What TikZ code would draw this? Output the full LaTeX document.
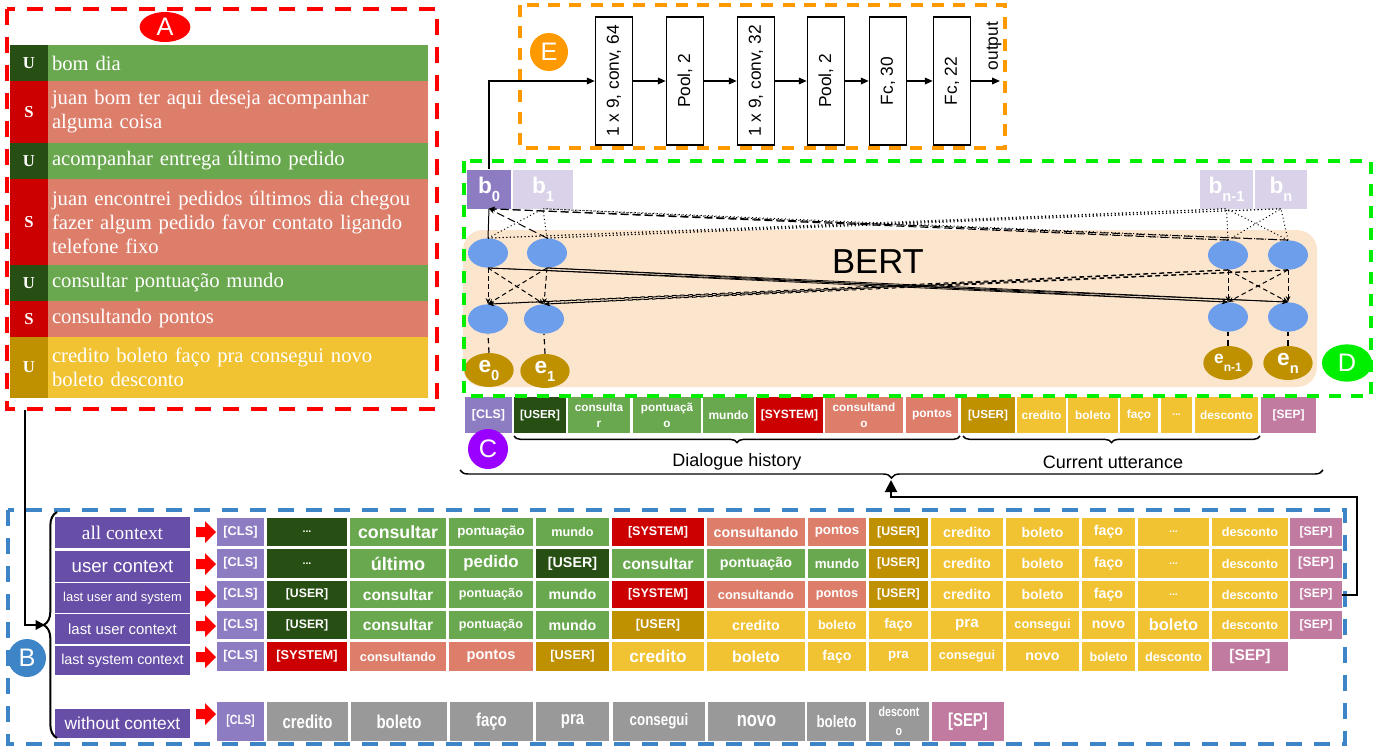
\documentclass[tikz,border=0pt]{standalone}
\usepackage{fontspec}
\setmainfont{Liberation Sans}
\newfontfamily\tnr{Liberation Serif}
\newfontfamily\narrow[FakeStretch=0.8]{Liberation Sans}
\usetikzlibrary{shapes.geometric,arrows.meta,decorations.pathreplacing}
\definecolor{dgreen}{HTML}{274E13}
\definecolor{mgreen}{HTML}{6AA84F}
\definecolor{sred}{HTML}{CC0000}
\definecolor{salmon}{HTML}{DD7E6B}
\definecolor{gold}{HTML}{BF9000}
\definecolor{yel}{HTML}{F1C232}
\definecolor{cls}{HTML}{8E7CC3}
\definecolor{sepc}{HTML}{C27BA0}
\definecolor{labc}{HTML}{674EA7}
\definecolor{gry}{HTML}{999999}
\definecolor{lpur}{HTML}{D9D2E9}
\definecolor{bblue}{HTML}{6D9EEB}
\definecolor{peach}{HTML}{FCE5CD}
\definecolor{org}{HTML}{FF9900}
\definecolor{brg}{HTML}{00EE00}
\definecolor{rdash}{HTML}{FF0000}
\definecolor{bdash}{HTML}{3D85C6}
\definecolor{cpur}{HTML}{9900FF}
\newcommand\fsz[1]{\fontsize{#1}{#1}\selectfont}
\newcommand\sbs[2]{\raisebox{-6pt}{\fsz{#1}#2}}
\newcommand\tokrow[5]{%
  \foreach \xa/\xb/\col/\fs/\txt [count=\i] in {#5}{
    \node[tok, fill=\col, minimum width={(\xb-\xa)*0.75pt}, minimum height={(#3-#2)*0.75pt}, font=#4\bfseries\fsz{\fs}] (#1-\i) at ({(\xa+\xb)/2},{(#2+#3)/2}) {\txt};
  }}
\newcommand\arow[7]{%
  \node[acell, fill=#4, minimum width=28.5pt, minimum height={#3*0.75pt}, font=\tnr\bfseries\fsz{12.5}] (#1l) at (10,#2) {#6};
  \node[acell, fill=#5, minimum width=285pt, minimum height={#3*0.75pt}, text width=279pt, align=left, inner xsep=3pt, font=\tnr\fontsize{15.5}{18}\selectfont] (#1t) at (48,#2) {#7};}
\newcommand\redarrow[1]{\fill[red] (196,#1-5) -- (205,#1-5) -- (205,#1-11) -- (216,#1) -- (205,#1+11) -- (205,#1+5) -- (196,#1+5) -- cycle;}
\begin{document}
\begin{tikzpicture}[x=0.75pt, y=-0.75pt,
  tok/.style={rectangle, inner sep=0pt, outer sep=0pt, text=white, align=center},
  acell/.style={rectangle, inner sep=0pt, outer sep=0pt, anchor=north west, text=white},
  ctxlab/.style={rectangle, fill=labc, text=white, inner sep=0pt, minimum width=101.25pt},
  ebox/.style={rectangle, draw=black, line width=1.1pt, fill=white, minimum width=27.75pt, minimum height=96pt, inner sep=0pt, font=\fsz{13}},
  earr/.style={line width=1.1pt, -{Triangle[length=6pt,width=5pt]}},
  badge/.style={ellipse, text=white, inner sep=0pt, font=\fsz{19}},
  bbox/.style={rectangle, inner sep=0pt, text=white, font=\bfseries\fsz{17}, minimum height=29.25pt},
  blu/.style={ellipse, fill=bblue, inner sep=0pt, minimum width=30pt, minimum height=22pt},
  eel/.style={ellipse, fill=gold, inner sep=0pt, minimum width=37pt, minimum height=25.5pt, text=white, font=\bfseries\fsz{17}},
  cdash/.style={line width=0.75pt, dash pattern=on 3.5pt off 2.5pt, -{Stealth[length=4.5pt,width=3.5pt]}},
  csol/.style={line width=0.6pt, -{Stealth[length=4.5pt,width=3.5pt]}},
  cdot/.style={line width=0.75pt, dotted},
  rdashs/.style={draw=rdash, line width=2.6pt, dash pattern=on 12pt off 9pt},
  odashs/.style={draw=org, line width=2.6pt, dash pattern=on 9pt off 7pt},
  gdashs/.style={draw=brg, line width=2.4pt, dash pattern=on 9pt off 7.5pt},
  bdashs/.style={draw=bdash, line width=2.3pt, dash pattern=on 12pt off 9pt},
  brc/.style={line width=1.1pt, decorate}
]
\useasboundingbox (0,0) rectangle (1390,747);
\fill[white] (0,0) rectangle (1390,747);

% ---------------- Panel A ----------------
\arow{a1}{45}{36}{dgreen}{mgreen}{U}{bom dia}
\arow{a2}{81}{62}{sred}{salmon}{S}{juan bom ter aqui deseja acompanhar\\alguma coisa}
\arow{a3}{143}{36}{dgreen}{mgreen}{U}{acompanhar entrega último pedido}
\arow{a4}{179}{86}{sred}{salmon}{S}{juan encontrei pedidos últimos dia chegou\\fazer algum pedido favor contato ligando\\telefone fixo}
\arow{a5}{265}{36}{dgreen}{mgreen}{U}{consultar pontuação mundo}
\arow{a6}{301}{36}{sred}{salmon}{S}{consultando pontos}
\arow{a7}{337}{61}{gold}{yel}{U}{credito boleto faço pra consegui novo\\boleto desconto}
\draw[rdashs] (7,9) rectangle (437,409);
\node[badge, fill=rdash, minimum width=38pt, minimum height=22.5pt] (bA) at (165,27) {A};

% ---------------- Panel E ----------------
\draw[odashs] (520,5) rectangle (1005,148);
\node[badge, fill=org, minimum width=28.5pt, minimum height=28.5pt] (bE) at (549,52) {E};
\node[ebox] (cv1) at (614,81) {\rotatebox{90}{1 x 9, conv, 64}};
\node[ebox] (pl1) at (685,81) {\rotatebox{90}{Pool, 2}};
\node[ebox] (cv2) at (756,81) {\rotatebox{90}{1 x 9, conv, 32}};
\node[ebox] (pl2) at (826,81) {\rotatebox{90}{Pool, 2}};
\node[ebox] (fc1) at (888,81) {\rotatebox{90}{Fc, 30}};
\node[ebox] (fc2) at (952,81) {\rotatebox{90}{Fc, 22}};
\draw[earr] (cv1) -- (pl1);
\draw[earr] (pl1) -- (cv2);
\draw[earr] (cv2) -- (pl2);
\draw[earr] (pl2) -- (fc1);
\draw[earr] (fc1) -- (fc2);
\node[inner sep=0pt, font=\fsz{13}] (outl) at (994,46) {\rotatebox{90}{output}};
\coordinate (oute) at (1000,81);
\draw[earr] (fc2) -- (oute);

% ---------------- Panel D (BERT) ----------------
\fill[peach, rounded corners=15pt] (463,230) rectangle (1317,387);
\node[font=\fsz{26}, inner sep=0pt] (bert) at (878,262) {BERT};
\node[bbox, fill=cls, minimum width=33pt] (bb1) at (489,189) {b\sbs{11}{0}};
\node[bbox, fill=lpur, minimum width=45pt] (bb2) at (543,189) {b\sbs{11}{1}};
\node[bbox, fill=lpur, minimum width=39.75pt] (bb3) at (1226.5,189) {b\sbs{11}{n-1}};
\node[bbox, fill=lpur, minimum width=39pt] (bb4) at (1281,189) {b\sbs{11}{n}};
\node[blu] (u1) at (488,253) {};
\node[blu] (u2) at (547,253) {};
\node[blu] (u3) at (1228,255) {};
\node[blu] (u4) at (1288,255) {};
\node[blu] (l1) at (488,319) {};
\node[blu] (l2) at (544,319) {};
\node[blu] (l3) at (1228,317) {};
\node[blu] (l4) at (1288,317) {};
\node[eel] (e1) at (489,370) {e\sbs{11}{0}};
\node[eel] (e2) at (545,371) {e\sbs{11}{1}};
\node[eel, font=\bfseries\fsz{13}] (e3) at (1228,363) {e\sbs{9}{n-1}};
\node[eel] (e4) at (1288,363) {e\sbs{11}{n}};
\foreach \a in {1,2,3,4}{\draw[line width=0.9pt, dash pattern=on 4pt off 3pt] (e\a.north) -- (l\a.south);}
\foreach \a/\b/\s in {1/1/cdash,1/2/cdash,1/3/csol,1/4/csol,2/1/cdash,2/2/cdash,2/3/csol,2/4/csol,3/1/cdash,3/2/cdash,3/3/cdash,3/4/cdash,4/1/cdash,4/2/cdash,4/3/cdash,4/4/cdash}
  {\draw[\s] (u\a.south) -- (l\b.north);}
\draw[line width=0.75pt] (u1.north) -- (bb1.south);
\foreach \a in {2,3,4}{\draw[cdash, dash pattern=on 6pt off 3pt] (u\a.north) -- (bb1.south);}
\foreach \a in {1,2,3,4}{\foreach \b in {2,3,4}{\draw[cdot] (u\a.north) -- (bb\b.south);}}
\draw[earr] (bb1.north) |- (cv1.west);

% ---------------- Token row C ----------------
\tokrow{c}{397}{433}{}{465/512/cls/9.3/{[CLS]}, 514/566/dgreen/8.7/{[USER]}, 568/630/mgreen/8.8/{consulta\\[3pt]r}, 633/701/mgreen/8.8/{pontuaçã\\[3pt]o}, 703/754/mgreen/9/{mundo}, 756/823/sred/9/{[SYSTEM]}, 825/903/salmon/8.8/{consultand\\[3pt]o}, 906/958/salmon/9/{pontos}, 961/1015/gold/8.7/{[USER]}, 1017/1066/yel/8.9/{credito}, 1068/1118/yel/8.9/{boleto}, 1120/1158/yel/8.9/{faço}, 1161/1192/yel/8/{...}, 1195/1258/yel/8.9/{desconto}, 1261/1316/sepc/9/{[SEP]}}
\draw[gdashs] (464,161) rectangle (1371,396);
\node[badge, fill=brg, minimum width=37.5pt, minimum height=28pt] (bD) at (1347,363) {D};
\node[badge, fill=cpur, minimum width=30pt, minimum height=30pt] (bC) at (488,449) {C};
\draw[brc, decoration={brace, mirror, amplitude=5pt}] (514,436) -- (960,436);
\draw[brc, decoration={brace, mirror, amplitude=5pt}] (963,436) -- (1260,436);
\node[font=\fsz{13.5}] (dh) at (737,462) {Dialogue history};
\node[font=\fsz{13.5}] (cu) at (1113,462) {Current utterance};
\draw[brc, decoration={brace, mirror, amplitude=6pt}] (460,470) -- (1323,470);

% ---------------- Panel B ----------------
\draw[bdashs] (8,510) rectangle (1345,744);
\node[ctxlab, minimum height=23.25pt, font=\tnr\fsz{14.5}] (ctx1) at (122.5,532.5) {all context};
\node[ctxlab, minimum height=23.25pt, font=\fsz{14}] (ctx2) at (122.5,566.5) {user context};
\node[ctxlab, minimum height=22.5pt, font=\fsz{9.7}] (ctx3) at (122.5,598) {last user and system};
\node[ctxlab, minimum height=22.5pt, font=\fsz{11.2}] (ctx4) at (122.5,629) {last user context};
\node[ctxlab, minimum height=21.75pt, font=\fsz{10.8}] (ctx5) at (122.5,660.5) {last system context};
\node[ctxlab, minimum height=21.75pt, font=\fsz{13}] (ctx6) at (122.5,723.5) {without context};
\redarrow{532}
\redarrow{564}
\redarrow{596}
\redarrow{626}
\redarrow{657}
\redarrow{714}
\tokrow{r1}{518}{546}{}{217/264/cls/9.6/{[CLS]}, 267/347/dgreen/8/{...}, 350/446/mgreen/13.3/{consultar}, 449/533/mgreen/10/{pontuação}, 536/609/mgreen/9.5/{mundo}, 612/704/sred/9.4/{[SYSTEM]}, 707/805/salmon/10.7/{consultando}, 808/866/salmon/10/{pontos}, 869/928/gold/9.3/{[USER]}, 931/1003/yel/10.7/{credito}, 1006/1079/yel/10.5/{boleto}, 1082/1135/yel/10.7/{faço}, 1138/1209/yel/8/{...}, 1212/1288/yel/9.5/{desconto}, 1290/1342/sepc/9.2/{[SEP]}}
\tokrow{r2}{549}{578}{}{217/264/cls/9.6/{[CLS]}, 267/347/dgreen/8/{...}, 350/446/mgreen/13.6/{último}, 449/533/mgreen/12.6/{pedido}, 536/609/dgreen/10.7/{[USER]}, 612/704/mgreen/11.8/{consultar}, 707/805/mgreen/10.7/{pontuação}, 808/866/mgreen/10/{mundo}, 869/928/gold/9.3/{[USER]}, 931/1003/yel/10.7/{credito}, 1006/1079/yel/10.5/{boleto}, 1082/1135/yel/10.7/{faço}, 1138/1209/yel/8/{...}, 1212/1288/yel/9.5/{desconto}, 1290/1342/sepc/10/{[SEP]}}
\tokrow{r3}{581}{608}{}{217/264/cls/9.6/{[CLS]}, 267/347/dgreen/9.2/{[USER]}, 350/446/mgreen/11.7/{consultar}, 449/533/mgreen/9.5/{pontuação}, 536/609/mgreen/10.7/{mundo}, 612/704/sred/9.4/{[SYSTEM]}, 707/805/salmon/9.6/{consultando}, 808/866/salmon/9.5/{pontos}, 869/928/gold/9.3/{[USER]}, 931/1003/yel/10.7/{credito}, 1006/1079/yel/10.5/{boleto}, 1082/1135/yel/10.7/{faço}, 1138/1209/yel/8/{...}, 1212/1288/yel/9.5/{desconto}, 1290/1342/sepc/9.2/{[SEP]}}
\tokrow{r4}{611}{639}{}{217/264/cls/9.6/{[CLS]}, 267/347/dgreen/9.2/{[USER]}, 350/446/mgreen/11.7/{consultar}, 449/533/mgreen/9.5/{pontuação}, 536/609/mgreen/10.7/{mundo}, 612/704/gold/9.6/{[USER]}, 707/805/yel/10.7/{credito}, 808/866/yel/9.5/{boleto}, 869/928/yel/10.3/{faço}, 931/1003/yel/11.4/{pra}, 1006/1079/yel/9.6/{consegui}, 1082/1135/yel/10.5/{novo}, 1138/1209/yel/12.3/{boleto}, 1212/1288/yel/9.5/{desconto}, 1290/1342/sepc/9.2/{[SEP]}}
\tokrow{r5}{642}{671}{}{217/264/cls/9.6/{[CLS]}, 267/347/sred/9.6/{[SYSTEM]}, 350/446/salmon/9.6/{consultando}, 449/533/salmon/11/{pontos}, 536/609/gold/9.6/{[USER]}, 612/704/yel/12.9/{credito}, 707/805/yel/12/{boleto}, 808/866/yel/10.6/{faço}, 869/928/yel/10/{pra}, 931/1003/yel/9.6/{consegui}, 1006/1079/yel/10.7/{novo}, 1082/1135/yel/9.5/{boleto}, 1138/1209/yel/9.6/{desconto}, 1212/1288/sepc/11.6/{[SEP]}}
\tokrow{r6}{702}{741}{\narrow}{217/264/cls/10/{[CLS]}, 267/348/gry/14/{credito}, 351/447/gry/14/{boleto}, 450/533/gry/14/{faço}, 536/609/gry/14/{pra}, 613/705/gry/12.5/{consegui}, 708/805/gry/15.5/{novo}, 807/866/gry/12.5/{boleto}, 869/929/gry/10/{descont\\[4pt]o}, 932/1004/sepc/14/{[SEP]}}
\node[badge, fill=bdash, minimum width=28.5pt, minimum height=28.5pt] (bB) at (27,658) {B};
\draw[line width=1.5pt, decorate, decoration={brace, amplitude=10pt}] (57,738) -- (57,512);
\coordinate (aout) at (25,410);
\coordinate (btip) at (45,625);
\draw[line width=1.5pt, -{Triangle[length=7pt,width=7pt]}] (aout) |- (btip);
\coordinate (fbc) at (1357,497);
\coordinate (fbt) at (891,480);
\draw[line width=1.5pt, -{Triangle[length=9pt,width=9pt]}] (r3-15.east) -| (fbc) -| (fbt);
\end{tikzpicture}
\end{document}
